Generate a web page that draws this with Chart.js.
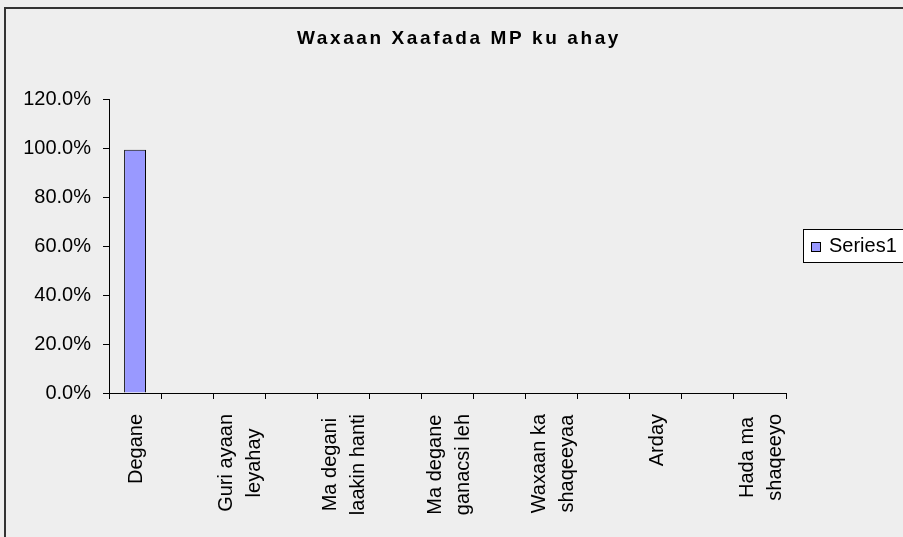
<!DOCTYPE html>
<html>
<head>
<meta charset="utf-8">
<title>Waxaan Xaafada MP ku ahay</title>
<script src="https://cdn.jsdelivr.net/npm/chart.js@4.4.0/dist/chart.umd.min.js"></script>
<style>
  html, body { margin: 0; padding: 0; background: #eeeeee; overflow: hidden; }
  canvas { display: block; }
</style>
</head>
<body>
<canvas id="chart" width="903" height="537"></canvas>
<script>
const chartTitle = 'Waxaan Xaafada MP ku ahay';
const seriesName = 'Series1';
// every second category has no label shown in the original
const categories = [
  'Degane', '',
  ['Guri ayaan', 'leyahay'], '',
  ['Ma degani', 'laakin hanti'], '',
  ['Ma degane', 'ganacsi leh'], '',
  ['Waxaan ka', 'shaqeeyaa'], '',
  'Arday', '',
  ['Hada ma', 'shaqeeyo']
];
const percentages = [99.3, 0, 0, 0, 0, 0, 0, 0, 0, 0, 0, 0, 0];
const yMin = 0;
const yMax = 120;
const yStep = 20;

const FONT = '"Liberation Sans", Arial, sans-serif';

const framePlugin = {
  id: 'frame',
  beforeDraw(chart) {
    const ctx = chart.ctx;
    ctx.save();
    ctx.fillStyle = '#eeeeee';
    ctx.fillRect(0, 0, chart.width, chart.height);
    // outer chart border (only left and top are inside the picture)
    ctx.strokeStyle = '#333333';
    ctx.lineWidth = 2;
    ctx.beginPath();
    ctx.moveTo(5, chart.height + 5);
    ctx.lineTo(5, 8);
    ctx.lineTo(chart.width + 5, 8);
    ctx.stroke();
    // title, spaced out like the original
    ctx.font = 'bold 19px ' + FONT;
    ctx.letterSpacing = '2.6px';
    ctx.fillStyle = '#000';
    ctx.textBaseline = 'alphabetic';
    const w = ctx.measureText(chartTitle).width;
    ctx.fillText(chartTitle, 459 - w / 2, 43.5);
    ctx.restore();
  },
  afterDraw(chart) {
    const ctx = chart.ctx;
    const ds = chart.data.datasets[0];
    const xs = chart.scales.x;
    ctx.save();
    // category labels, rotated, lines centred on each other like Excel does
    ctx.font = '20px ' + FONT;
    ctx.fillStyle = '#000';
    ctx.textAlign = 'center';
    ctx.textBaseline = 'alphabetic';
    const lineGap = 28;
    chart.data.labels.forEach((lab, i) => {
      const lines = Array.isArray(lab) ? lab : [lab];
      if (!lines.join('')) return;
      const cx = xs.getPixelForValue(i);
      const blockLen = Math.max(...lines.map(l => ctx.measureText(l).width));
      const cy = 414 + blockLen / 2;
      lines.forEach((line, k) => {
        const off = (k - (lines.length - 1) / 2) * lineGap;
        ctx.save();
        ctx.translate(cx + off + 7, cy);
        ctx.rotate(-Math.PI / 2);
        ctx.fillText(line, 0, 0);
        ctx.restore();
      });
    });
    // legend box
    ctx.fillStyle = '#ffffff';
    ctx.strokeStyle = '#000';
    ctx.lineWidth = 1;
    ctx.fillRect(803.5, 229.5, 130, 33);
    ctx.strokeRect(803.5, 229.5, 130, 33);
    ctx.fillStyle = ds.backgroundColor;
    ctx.fillRect(811.5, 242.5, 9, 9);
    ctx.strokeRect(811.5, 242.5, 9, 9);
    ctx.fillStyle = '#000';
    ctx.textAlign = 'left';
    ctx.fillText(ds.label, 829, 252);
    ctx.restore();
  }
};

new Chart(document.getElementById('chart'), {
  type: 'bar',
  data: {
    labels: categories,
    datasets: [{
      label: seriesName,
      data: percentages,
      backgroundColor: '#9999ff',
      borderColor: '#000000',
      borderWidth: 1,
      barPercentage: 0.42,
      categoryPercentage: 1.0
    }]
  },
  options: {
    responsive: false,
    animation: false,
    layout: { padding: { top: 99, right: 117, left: 0, bottom: 0 } },
    plugins: {
      legend: { display: false },
      title: { display: false },
      tooltip: { enabled: false }
    },
    scales: {
      x: {
        grid: { offset: true, drawOnChartArea: false, tickLength: 6, color: '#000' },
        border: { color: '#000', width: 1 },
        ticks: { display: false },
        afterFit(scale) { scale.height = 144; }
      },
      y: {
        min: yMin,
        max: yMax,
        grid: { drawOnChartArea: false, tickLength: 6, color: '#000' },
        border: { color: '#000', width: 1 },
        ticks: {
          stepSize: yStep,
          padding: 12,
          color: '#000',
          font: { family: FONT, size: 20 },
          callback: v => v.toFixed(1) + '%'
        },
        afterFit(scale) { scale.width = 109; }
      }
    }
  },
  plugins: [framePlugin]
});
</script>
</body>
</html>
